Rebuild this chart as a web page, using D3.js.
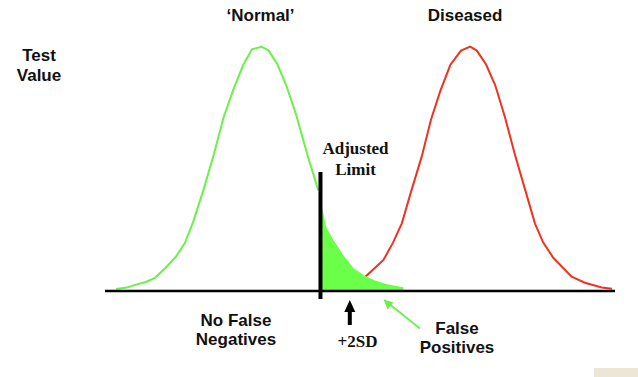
<!DOCTYPE html>
<html>
<head>
<meta charset="utf-8">
<script src="https://cdn.jsdelivr.net/npm/d3@7"></script>
<style>
  body { margin: 0; background: #fff; }
  svg { display: block; }
</style>
</head>
<body>
<svg width="638" height="377"></svg>
<script>
// values, x = test value (0-100), y = relative frequency (peak = 100)
const normalX = [2.2, 4.3, 5.9, 8.0, 9.8, 11.8, 13.9, 15.7, 17.3, 19.3, 21.4, 23.2, 25.2, 27.1, 28.8, 30.7,
    32.1, 33.8, 35.6, 37.5, 39.6, 41.8, 43.4, 44.8, 46.7, 48.7, 50.7, 52.7, 55.3, 58.5];
const normalY = [0.8, 1.4, 2.5, 3.7, 5.4, 9.3, 14.0, 19.8, 28.4, 41.3, 56.4, 70.7, 82.6, 92.5, 98.9, 100,
    98.4, 92.8, 83.9, 72.0, 56.4, 41.3, 26.0, 20.9, 14.7, 9.4, 6.5, 4.5, 2.8, 1.5];
const diseasedX = [43.7, 46.1, 48.4, 51.2, 54.6, 56.5, 58.2, 60.1, 62.1, 63.9, 65.7, 67.7, 69.8, 71.6,
    72.9, 74.7, 76.5, 78.4, 80.4, 82.4, 84.3, 85.9, 87.9, 91.5, 94.1, 97.4, 99.4];
const diseasedY = [0.6, 1.3, 2.8, 6.1, 12.7, 19.9, 27.7, 41.3, 55.0, 70.0, 81.6, 92.5, 98.4, 100,
    98.4, 92.8, 84.3, 71.3, 55.7, 41.3, 27.7, 19.9, 13.6, 5.9, 3.4, 1.4, 0.9];
const adjustedLimit = 42.25;
const sdMark = 48.0;
const curveLabels = ["\u2018Normal\u2019", "Diseased"];
const curveLabelX = [30.5, 70.6];

const svg = d3.select("svg");
const area_attr = { left: 105, right: 615, top: 46.7, base: 291 };

const scX = d3.scaleLinear().domain([0, 100]).range([area_attr.left, area_attr.right]);
const scY = d3.scaleLinear().domain([0, 100]).range([area_attr.base, area_attr.top]);

const normal = normalX.map((x, i) => ({ x: x, y: normalY[i] }));
const diseased = diseasedX.map((x, i) => ({ x: x, y: diseasedY[i] }));

const line = d3.line().x(d => scX(d.x)).y(d => scY(d.y));
const area = d3.area().x(d => scX(d.x)).y0(scY(0)).y1(d => scY(d.y));

const sans = "'Liberation Sans', Arial, sans-serif";
const serif = "'Liberation Serif', 'Times New Roman', serif";

// slide corner
svg.append("rect")
    .attr("x", 594).attr("y", 368).attr("width", 44).attr("height", 9)
    .attr("fill", "#ede6d7");

svg.append("defs").append("clipPath").attr("id", "tail")
    .append("rect")
    .attr("x", scX(adjustedLimit)).attr("y", 0)
    .attr("width", scX(100) - scX(adjustedLimit)).attr("height", scY(0));

svg.append("path")
    .attr("d", line(diseased))
    .attr("fill", "none")
    .attr("stroke", "#ee3322")
    .attr("stroke-width", 2);

svg.append("path")
    .attr("d", area(normal))
    .attr("clip-path", "url(#tail)")
    .attr("fill", "#6bff4a");

svg.append("path")
    .attr("d", line(normal.filter(d => d.x <= adjustedLimit + 1)))
    .attr("fill", "none")
    .attr("stroke", "#6cf04a")
    .attr("stroke-width", 2);

// baseline
svg.append("line")
    .attr("x1", scX(0)).attr("x2", scX(100))
    .attr("y1", scY(0)).attr("y2", scY(0))
    .attr("stroke", "#000").attr("stroke-width", 2.5);

// adjusted limit
svg.append("line")
    .attr("x1", scX(adjustedLimit)).attr("x2", scX(adjustedLimit))
    .attr("y1", 172).attr("y2", 299)
    .attr("stroke", "#000").attr("stroke-width", 4);

// +2SD arrow
const ax = scX(sdMark);
svg.append("line")
    .attr("x1", ax).attr("x2", ax).attr("y1", 309).attr("y2", 325)
    .attr("stroke", "#000").attr("stroke-width", 4);
svg.append("path")
    .attr("d", `M${ax},300 L${ax - 5.5},312 L${ax + 5.5},312 Z`)
    .attr("fill", "#000");

// false positives arrow
svg.append("line")
    .attr("x1", 420).attr("y1", 328.5).attr("x2", 388).attr("y2", 303)
    .attr("stroke", "#6cf04a").attr("stroke-width", 1.8);
svg.append("path")
    .attr("d", "M383.5,299.3 L393.5,302.5 L387.5,309.5 Z")
    .attr("fill", "#6cf04a");

function label(lines, x, y, font, dy) {
    const t = svg.append("text")
        .attr("x", x).attr("y", y)
        .attr("text-anchor", "middle")
        .attr("font-family", font)
        .attr("font-weight", "bold")
        .attr("font-size", 17)
        .attr("fill", "#111");
    lines.forEach((s, i) => {
        t.append("tspan").attr("x", x).attr("dy", i === 0 ? 0 : dy).text(s);
    });
}

curveLabels.forEach((s, i) => label([s], scX(curveLabelX[i]), 21, sans, 0));
label(["Test", "Value"], 39, 61, sans, 20);
label(["Adjusted", "Limit"], 355.5, 154, serif, 21);
label(["No False", "Negatives"], 236, 326, sans, 19);
label(["+2SD"], 357.5, 347, serif, 0);
label(["False", "Positives"], 457, 334, sans, 19);
</script>
</body>
</html>
